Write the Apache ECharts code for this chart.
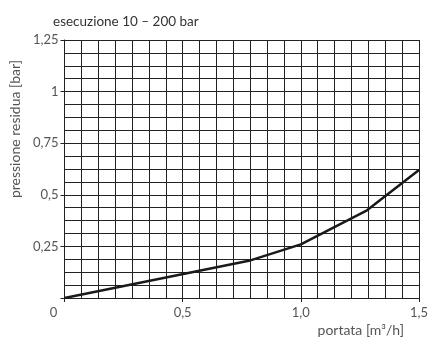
<!DOCTYPE html>
<html>
<head>
<meta charset="utf-8">
<script src="https://cdn.jsdelivr.net/npm/echarts@6/dist/echarts.min.js"></script>
<style>
  html, body { margin: 0; padding: 0; background: #fff; }
  #chart { width: 431px; height: 345px; }
</style>
</head>
<body>
<div id="chart"></div>
<script>
// Flow rate (m³/h) against residual pressure (bar)
const flowRate = [0, 0.78, 1.0, 1.28, 1.5];
const residualPressure = [0, 0.18, 0.26, 0.425, 0.62];
const xTicks = [0, 0.5, 1.0, 1.5];
const yTicks = [0, 0.25, 0.5, 0.75, 1, 1.25];

const FONT = 'Lato, "DejaVu Sans", sans-serif';
const GRID = '#222';
const TEXT = '#555';

const comma = s => String(s).replace('.', ',');

const chart = echarts.init(document.getElementById('chart'), null, { renderer: 'canvas' });
chart.setOption({
  animation: false,
  title: {
    text: 'esecuzione 10 – 200 bar',
    left: 48, top: 10,
    textStyle: { fontFamily: FONT, fontSize: 13.5, fontWeight: 'normal', color: '#333' }
  },
  grid: { left: 54, right: 9, top: 40, bottom: 47, containLabel: false },
  xAxis: {
    type: 'value',
    min: xTicks[0], max: xTicks[xTicks.length - 1], interval: 0.5,
    name: 'portata [m³/h]',
    nameLocation: 'end',
    nameGap: 0,
    nameTextStyle: {
      fontFamily: FONT, fontSize: 14, color: TEXT,
      align: 'right', verticalAlign: 'top', padding: [25, 15, 0, 0]
    },
    axisLine: { show: true, lineStyle: { color: GRID, width: 1 } },
    axisTick: { show: true, inside: false, length: 4, lineStyle: { color: GRID } },
    minorTick: { show: false, splitNumber: 7 },
    splitLine: { show: true, lineStyle: { color: GRID, width: 1 } },
    minorSplitLine: { show: true, lineStyle: { color: GRID, width: 1 } },
    axisLabel: {
      fontFamily: FONT, fontSize: 13, color: TEXT, margin: 8,
      formatter: v => {
        if (v === 0) return '{o|0}';
        return comma(v.toFixed(1));
      },
      rich: { o: { fontFamily: FONT, fontSize: 13, color: TEXT, padding: [0, 22, 0, 0] } }
    }
  },
  yAxis: {
    type: 'value',
    min: yTicks[0], max: yTicks[yTicks.length - 1], interval: 0.25,
    name: 'pressione residua [bar]',
    nameLocation: 'middle',
    nameRotate: 90,
    nameGap: 29,
    nameTextStyle: {
      fontFamily: FONT, fontSize: 14, color: TEXT,
      padding: [0, 0, 0, 80]
    },
    axisLine: { show: true, lineStyle: { color: GRID, width: 1 } },
    axisTick: { show: true, inside: false, length: 4, lineStyle: { color: GRID } },
    minorTick: { show: false, splitNumber: 4 },
    splitLine: { show: true, lineStyle: { color: GRID, width: 1 } },
    minorSplitLine: { show: true, lineStyle: { color: GRID, width: 1 } },
    axisLabel: {
      fontFamily: FONT, fontSize: 13, color: TEXT, margin: 6,
      formatter: v => (v === 0 ? '' : comma(v))
    }
  },
  series: [{
    type: 'line',
    data: flowRate.map((x, i) => [x, residualPressure[i]]),
    showSymbol: false,
    lineStyle: { color: '#1a1a1a', width: 2.5 },
    z: 5
  }]
});
</script>
</body>
</html>
